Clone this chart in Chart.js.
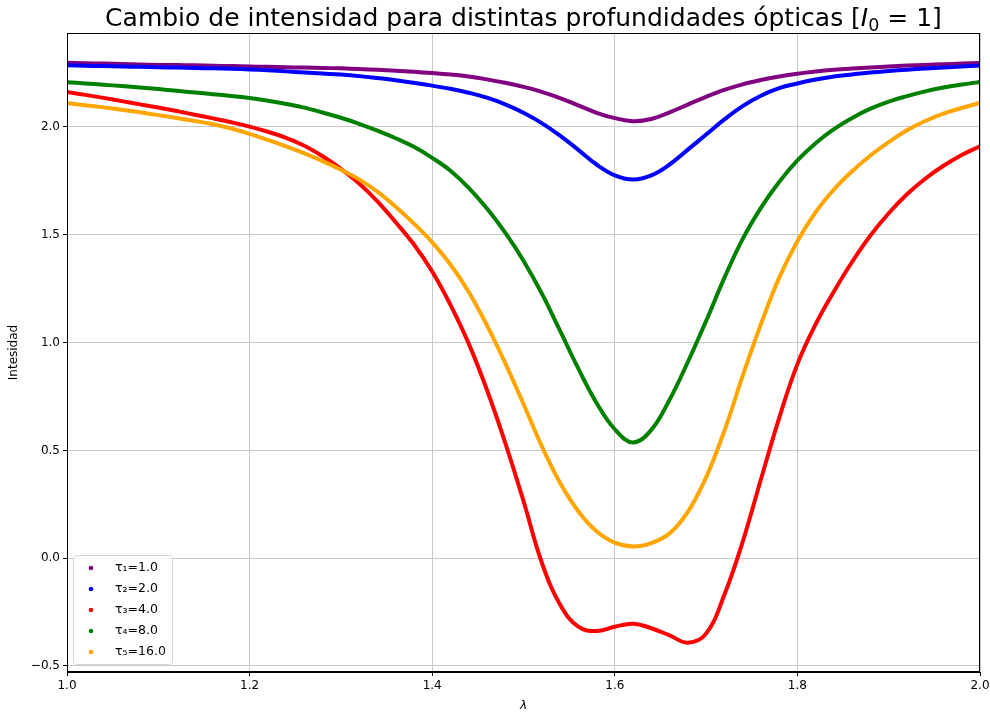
<!DOCTYPE html>
<html>
<head>
<meta charset="utf-8">
<script src="https://cdn.jsdelivr.net/npm/chart.js@4.4.0/dist/chart.umd.min.js"></script>
<style>
  body { margin: 0; background: #fff; }
  #wrap { width: 990px; height: 715px; position: relative; }
</style>
</head>
<body>
<div id="wrap"><canvas id="chart-intensidad"></canvas></div>
<script>
// longitudes de onda (eje x)
const lambdas = [
  1.00, 1.02, 1.04, 1.06, 1.08, 1.10, 1.12, 1.14, 1.16, 1.18,
  1.20, 1.22, 1.24, 1.26, 1.28, 1.30, 1.32, 1.34, 1.36, 1.38,
  1.40, 1.42, 1.44, 1.46, 1.48, 1.50, 1.52, 1.54, 1.56, 1.58,
  1.60, 1.62, 1.64, 1.66, 1.68, 1.70, 1.72, 1.74, 1.76, 1.78,
  1.80, 1.82, 1.84, 1.86, 1.88, 1.90, 1.92, 1.94, 1.96, 1.98, 2.00
];

// intensidad, una lista por profundidad optica
const tau1 = [
  2.298, 2.296, 2.294, 2.292, 2.290, 2.288, 2.287, 2.286, 2.284, 2.283,
  2.281, 2.279, 2.277, 2.276, 2.274, 2.272, 2.269, 2.265, 2.261, 2.256,
  2.250, 2.243, 2.234, 2.221, 2.205, 2.186, 2.163, 2.134, 2.100, 2.066,
  2.041, 2.027, 2.037, 2.068, 2.104, 2.140, 2.172, 2.198, 2.218, 2.234,
  2.247, 2.257, 2.265, 2.271, 2.276, 2.281, 2.285, 2.288, 2.291, 2.294, 2.297
];
const tau2 = [
  2.286, 2.284, 2.283, 2.281, 2.279, 2.277, 2.276, 2.274, 2.272, 2.270,
  2.267, 2.263, 2.258, 2.253, 2.248, 2.243, 2.236, 2.227, 2.217, 2.205,
  2.192, 2.177, 2.159, 2.136, 2.105, 2.066, 2.018, 1.960, 1.894, 1.826,
  1.776, 1.757, 1.776, 1.826, 1.895, 1.965, 2.035, 2.097, 2.145, 2.180,
  2.202, 2.220, 2.234, 2.244, 2.253, 2.260, 2.266, 2.271, 2.276, 2.281, 2.285
];
const tau3 = [
  2.162, 2.149, 2.135, 2.120, 2.105, 2.090, 2.074, 2.057, 2.040, 2.022,
  2.002, 1.978, 1.950, 1.913, 1.864, 1.806, 1.738, 1.655, 1.558, 1.455,
  1.330, 1.175, 0.995, 0.780, 0.535, 0.265, -0.020, -0.215, -0.318, -0.338,
  -0.318, -0.304, -0.325, -0.358, -0.392, -0.350, -0.170, 0.075, 0.365, 0.650,
  0.900, 1.085, 1.237, 1.375, 1.497, 1.600, 1.688, 1.760, 1.820, 1.870, 1.911
];
const tau4 = [
  2.208, 2.202, 2.196, 2.190, 2.183, 2.176, 2.168, 2.160, 2.152, 2.144,
  2.135, 2.122, 2.107, 2.090, 2.067, 2.043, 2.015, 1.983, 1.948, 1.908,
  1.857, 1.797, 1.718, 1.622, 1.510, 1.380, 1.228, 1.055, 0.880, 0.720,
  0.598, 0.537, 0.595, 0.735, 0.910, 1.100, 1.300, 1.480, 1.625, 1.745,
  1.845, 1.925, 1.990, 2.042, 2.085, 2.118, 2.143, 2.165, 2.183, 2.197, 2.209
];
const tau5 = [
  2.111, 2.101, 2.091, 2.080, 2.068, 2.055, 2.042, 2.028, 2.013, 1.993,
  1.968, 1.940, 1.910, 1.878, 1.842, 1.802, 1.757, 1.700, 1.630, 1.552,
  1.465, 1.362, 1.235, 1.080, 0.905, 0.715, 0.520, 0.350, 0.218, 0.125,
  0.072, 0.054, 0.070, 0.115, 0.215, 0.375, 0.590, 0.845, 1.085, 1.300,
  1.470, 1.605, 1.710, 1.795, 1.868, 1.930, 1.985, 2.028, 2.062, 2.088, 2.112
];

const seriesLabels = ['τ₁=1.0', 'τ₂=2.0', 'τ₃=4.0', 'τ₄=8.0', 'τ₅=16.0'];
const seriesColors = ['#800080', '#0000ff', '#ff0000', '#008000', '#ffa500'];
const xTicks = [1.0, 1.2, 1.4, 1.6, 1.8, 2.0];
const yTicks = [-0.5, 0.0, 0.5, 1.0, 1.5, 2.0];

const FONT = '"DejaVu Sans", sans-serif';

const allSeries = [tau1, tau2, tau3, tau4, tau5];

// titulo, marco y leyenda al estilo matplotlib
const decor = {
  id: 'decor',
  afterDraw(chart) {
    const { ctx, chartArea: { top, bottom, left, right } } = chart;
    ctx.save();

    // marco
    ctx.strokeStyle = '#000';
    ctx.lineWidth = 1;
    ctx.strokeRect(Math.round(left) + 0.5, Math.round(top) + 0.5,
      Math.round(right - left) - 1, Math.round(bottom - top) - 1);

    // titulo
    const parts = [
      { text: 'Cambio de intensidad para distintas profundidades ópticas [', font: `25px ${FONT}`, dy: 0 },
      { text: 'I', font: `oblique 25px ${FONT}`, dy: 0 },
      { text: '0', font: `17.5px ${FONT}`, dy: 5 },
      { text: ' = 1]', font: `25px ${FONT}`, dy: 0 },
    ];
    let total = 0;
    parts.forEach(p => { ctx.font = p.font; p.w = ctx.measureText(p.text).width; total += p.w; });
    let cx = (left + right) / 2 - total / 2;
    ctx.fillStyle = '#000';
    ctx.textAlign = 'left';
    ctx.textBaseline = 'alphabetic';
    parts.forEach(p => { ctx.font = p.font; ctx.fillText(p.text, cx, 26 + p.dy); cx += p.w; });

    // leyenda
    const bx = left + 6.5, by = bottom - 116.5, bw = 99, bh = 109, r = 3;
    ctx.beginPath();
    ctx.roundRect(bx, by, bw, bh, r);
    ctx.fillStyle = 'rgba(255,255,255,0.8)';
    ctx.fill();
    ctx.strokeStyle = '#d6d6d6';
    ctx.stroke();

    ctx.font = `12.5px ${FONT}`;
    ctx.textBaseline = 'middle';
    chart.data.datasets.forEach((ds, i) => {
      const yy = by + 12.5 + i * 21;
      ctx.beginPath();
      ctx.arc(bx + 17.5, yy, 2.3, 0, Math.PI * 2);
      ctx.fillStyle = ds.borderColor;
      ctx.fill();
      ctx.fillStyle = '#000';
      ctx.fillText(ds.label, bx + 41.5, yy);
    });
    ctx.restore();
  }
};

const datasets = allSeries.map((serie, i) => ({
  label: seriesLabels[i],
  data: lambdas.map((l, k) => ({ x: l, y: serie[k] })),
  borderColor: seriesColors[i],
  backgroundColor: seriesColors[i],
  showLine: true,
  borderWidth: 4,
  pointRadius: 0,
  tension: 0.4,
  order: allSeries.length - i,
}));

const fmt = v => v.toFixed(1).replace('-', '\u2212');

new Chart(document.getElementById('chart-intensidad'), {
  type: 'scatter',
  data: { datasets },
  options: {
    responsive: true,
    maintainAspectRatio: false,
    animation: false,
    layout: { padding: { top: 33, right: 10, left: 0, bottom: 0 } },
    plugins: {
      legend: { display: false },
      title: { display: false },
      tooltip: { enabled: false }
    },
    scales: {
      x: {
        type: 'linear',
        min: 1.0,
        max: 2.0,
        afterFit: s => { s.height = 43; s.paddingLeft = 0; s.paddingRight = 0; },
        afterBuildTicks: s => { s.ticks = xTicks.map(v => ({ value: v })); },
        grid: { color: '#c8c8c8', lineWidth: 1, tickColor: '#000', tickLength: 4, drawTicks: true },
        border: { display: true, color: '#000', width: 1 },
        ticks: {
          color: '#000', font: { family: FONT, size: 12 }, padding: 3,
          maxRotation: 0, autoSkip: false, callback: v => fmt(v)
        },
        title: {
          display: true, text: 'λ', color: '#000',
          font: { family: FONT, size: 12, style: 'italic' },
          padding: { top: 0, bottom: 2 }
        }
      },
      y: {
        type: 'linear',
        min: -0.528,
        max: 2.436,
        afterFit: s => { s.width = 67; },
        afterBuildTicks: s => { s.ticks = yTicks.map(v => ({ value: v })); },
        grid: { color: '#c8c8c8', lineWidth: 1, tickColor: '#000', tickLength: 4, drawTicks: true },
        border: { display: true, color: '#000', width: 1 },
        ticks: {
          color: '#000', font: { family: FONT, size: 12 }, padding: 3,
          autoSkip: false, callback: v => fmt(v)
        },
        title: {
          display: true, text: 'Intesidad', color: '#000',
          font: { family: FONT, size: 12 },
          padding: { top: 7, bottom: 0 }
        }
      }
    }
  },
  plugins: [decor]
});
</script>
</body>
</html>
